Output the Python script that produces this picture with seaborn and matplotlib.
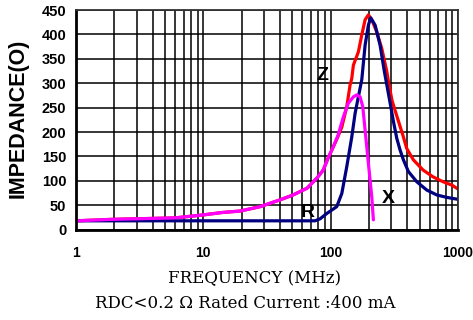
import matplotlib
matplotlib.use("Agg")
import matplotlib.pyplot as plt
import matplotlib.ticker as mticker
import seaborn as sns
import pandas as pd

# frequency (MHz) / impedance (ohm)
z_freq = [1, 1.92, 6.0, 9.9, 14.0, 19.4, 27.9, 40.1, 50.7, 65.4, 78.3, 87.4, 95.3, 105,
          111.7, 122.3, 133.8, 142, 146.5, 150.8, 165, 175.5, 186.4, 197.8, 210.3, 230.2,
          252, 275.9, 287.6, 303.6, 332.4, 370.4, 396, 446, 531.9, 637.4, 763.7, 899, 1000]
z_vals = [18, 21, 24, 30, 35, 38, 47, 61, 71, 85, 106, 122, 146, 170,
          185, 210, 252, 296, 310, 337, 364, 399, 430, 440, 430, 405,
          371, 324, 296, 264, 231, 192, 166, 143, 122, 108, 98, 91, 83]

x_freq = [1, 75.4, 82.5, 93.2, 111.6, 122.3, 133.8, 146.5, 155.5, 165, 175.5, 186.4, 197.8,
          206.2, 223.4, 244.4, 264.1, 276.3, 292.8, 310.9, 330.6, 350.9, 372.5, 407.7,
          474.7, 568.8, 681.6, 816.6, 1000]
x_vals = [18, 18, 22, 33, 47, 74, 129, 190, 238, 272, 307, 378, 419,
          434, 419, 378, 324, 296, 260, 222, 187, 163, 143, 119,
          98, 81, 71, 66, 62]

r_freq = [1, 1.92, 6.0, 9.9, 14.0, 19.4, 27.9, 40.1, 50.7, 65.4, 78.3, 87.4, 95.3, 105,
          114.5, 125.8, 137.7, 150.8, 160.3, 170.2, 178.7, 186.4, 197.8, 210.3, 216.5]
r_vals = [18, 21, 24, 30, 35, 38, 47, 61, 71, 85, 106, 122, 146, 170,
          194, 231, 259, 272, 276, 272, 252, 204, 136, 67, 20]

y_ticks = [0, 50, 100, 150, 200, 250, 300, 350, 400, 450]
x_ticks = [1, 10, 100, 1000]

sns.set_style("white")
plt.rcParams["font.family"] = ["Liberation Sans", "DejaVu Sans"]
plt.rcParams["text.color"] = "black"
plt.rcParams["xtick.color"] = "black"
plt.rcParams["ytick.color"] = "black"

fig = plt.figure(figsize=(4.73, 3.2), dpi=100)
ax = fig.add_axes([76 / 473, 90.4 / 320, 382 / 473, 219.6 / 320])

z_df = pd.DataFrame({"freq": z_freq, "imp": z_vals})
x_df = pd.DataFrame({"freq": x_freq, "imp": x_vals})
r_df = pd.DataFrame({"freq": r_freq, "imp": r_vals})

sns.lineplot(data=z_df, x="freq", y="imp", color="#ff0000", lw=2.3, sort=False, estimator=None, ax=ax)
sns.lineplot(data=x_df, x="freq", y="imp", color="#000080", lw=2.3, sort=False, estimator=None, ax=ax)
sns.lineplot(data=r_df, x="freq", y="imp", color="#ff00ff", lw=2.3, sort=False, estimator=None, ax=ax)

ax.set_xscale("log")
ax.set_xlim(1, 1000)
ax.set_ylim(0, 450)
ax.set_yticks(y_ticks)
ax.set_xticks(x_ticks)
ax.xaxis.set_major_formatter(mticker.FixedFormatter([str(t) for t in x_ticks]))
ax.xaxis.set_minor_locator(mticker.LogLocator(base=10, subs=range(2, 10)))
ax.xaxis.set_minor_formatter(mticker.NullFormatter())
ax.grid(which="both", axis="x", color="black", lw=1.1)
ax.grid(which="major", axis="y", color="black", lw=1.1)
ax.set_axisbelow(True)
ax.set_xlabel("")
ax.set_ylabel("")

ax.tick_params(axis="y", length=0, pad=7, labelsize=10.5)
ax.tick_params(axis="x", which="both", length=0, pad=12, labelsize=10)
for lab in ax.get_xticklabels() + ax.get_yticklabels():
    lab.set_fontweight("bold")

for side in ["left", "bottom"]:
    ax.spines[side].set_linewidth(2.0)
    ax.spines[side].set_color("black")
for side in ["top", "right"]:
    ax.spines[side].set_linewidth(1.3)
    ax.spines[side].set_color("#333333")

ax.text(85.6, 315, "Z", fontsize=14, fontweight="bold", ha="center", va="center")
ax.text(65.9, 36, "R", fontsize=14, fontweight="bold", ha="center", va="center")
ax.text(282.5, 63, "X", fontsize=14, fontweight="bold", ha="center", va="center")

fig.text(18 / 473, 1 - 118 / 320, "IMPEDANCE(O)", rotation=90, ha="center", va="center",
         fontsize=15.5, fontweight="bold")
fig.text(255 / 473, 1 - 279 / 320, "FREQUENCY (MHz)", ha="center", va="center",
         fontsize=12, family=["DejaVu Serif"])
fig.text(245 / 473, 1 - 304 / 320, "RDC<0.2 Ω Rated Current :400 mA", ha="center", va="center",
         fontsize=12, family=["DejaVu Serif"])

fig.savefig("out.png", dpi=100)
